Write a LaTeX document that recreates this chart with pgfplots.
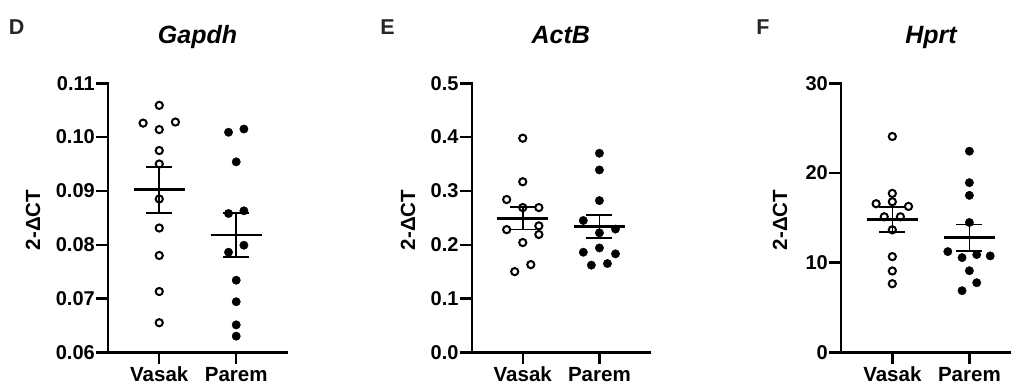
\documentclass[border=0pt]{standalone}
\usepackage{fontspec}
\setmainfont{Liberation Sans}
\usepackage{pgfplots}
\pgfplotsset{compat=1.18}
\pgfplotsset{
  gp/.style={
    scale only axis, clip=false, enlargelimits=false,
    axis x line=bottom, axis y line=left,
    axis line style={line width=2.4pt, line cap=rect, -},
    tick style={line width=2.4pt, black},
    tick align=outside, major tick length=12pt,
    xtick={0,1}, xticklabels={Vasak,Parem},
    xmin=-0.666, xmax=1.66,
    /pgf/number format/assume math mode=true,
    yticklabel style={font=\fontsize{20}{20}\selectfont\bfseries, inner sep=1pt},
    xticklabel style={font=\fontsize{20.5}{20}\selectfont\bfseries, inner sep=2.5pt},
    title style={at={(axis description cs:0.5,1.124)}, anchor=base, font=\fontsize{25}{25}\selectfont\bfseries\itshape},
    height=269pt,
  },
  vas/.style={only marks, mark=o, mark size=3.6pt, mark options={line width=2pt, black}},
  par/.style={only marks, mark=*, mark size=4.2pt, mark options={black, fill=black}},
  mn/.style={black, line width=2.8pt, no marks},
  sem/.style={black, line width=1.6pt, no marks},
}
\newcommand\ylab[1]{\node[rotate=90, anchor=center, font=\fontsize{20.5}{20}\selectfont\bfseries] at (axis description cs:#1,0.492) {2-ΔCT};}
\newcommand\plab[2]{\node[anchor=center, text=black!85, font=\fontsize{21.5}{21}\selectfont\bfseries] at (axis description cs:#1,1.209) {#2};}
\begin{document}
\begin{tikzpicture}
\path[use as bounding box] (0,0) rectangle (1011pt,-385pt);
% ---------------- D: Gapdh
\begin{axis}[gp, at={(108pt,-352.3pt)}, anchor=south west, width=179pt,
  ymin=0.06, ymax=0.11, ytick={0.06,0.07,0.08,0.09,0.10,0.11},
  yticklabel style={/pgf/number format/.cd, fixed, fixed zerofill, precision=2},
  title={Gapdh}]
\addplot[vas] coordinates {(0,0.1059) (-0.21,0.1026) (0.21,0.1028) (0,0.1014) (0,0.0975) (0,0.0950) (0,0.0885) (0,0.0831) (0,0.0780) (0,0.0713) (0,0.0655)};
\addplot[par] coordinates {(0.9,0.1009) (1.1,0.1015) (1,0.0954) (0.9,0.0858) (1.1,0.0863) (0.9,0.0786) (1.1,0.0799) (1,0.0734) (1,0.0694) (1,0.0651) (1,0.0630)};
\addplot[mn] coordinates {(-0.33,0.0902) (0.33,0.0902)};
\addplot[sem] coordinates {(0,0.0859) (0,0.0944)};
\addplot[sem] coordinates {(-0.17,0.0944) (0.17,0.0944)};
\addplot[sem] coordinates {(-0.17,0.0859) (0.17,0.0859)};
\addplot[mn] coordinates {(0.67,0.0818) (1.33,0.0818)};
\addplot[sem] coordinates {(1,0.0777) (1,0.0859)};
\addplot[sem] coordinates {(0.83,0.0859) (1.17,0.0859)};
\addplot[sem] coordinates {(0.83,0.0777) (1.17,0.0777)};
\ylab{-0.419}
\plab{-0.51}{D}
\end{axis}
% ---------------- E: ActB
\begin{axis}[gp, at={(471.7pt,-352.3pt)}, anchor=south west, width=178.3pt,
  ymin=0, ymax=0.5, ytick={0,0.1,0.2,0.3,0.4,0.5},
  yticklabel style={/pgf/number format/.cd, fixed, fixed zerofill, precision=1},
  title={ActB}]
\addplot[vas] coordinates {(0,0.398) (0,0.317) (-0.21,0.284) (0,0.269) (0.21,0.269) (-0.21,0.228) (0.21,0.235) (0.21,0.219) (0,0.204) (0.105,0.163) (-0.105,0.150)};
\addplot[par] coordinates {(1,0.370) (1,0.339) (1,0.282) (0.79,0.245) (1.21,0.229) (1,0.222) (1,0.194) (0.79,0.186) (1.21,0.183) (0.895,0.162) (1.105,0.165)};
\addplot[mn] coordinates {(-0.33,0.249) (0.33,0.249)};
\addplot[sem] coordinates {(0,0.228) (0,0.270)};
\addplot[sem] coordinates {(-0.17,0.270) (0.17,0.270)};
\addplot[sem] coordinates {(-0.17,0.228) (0.17,0.228)};
\addplot[mn] coordinates {(0.67,0.234) (1.33,0.234)};
\addplot[sem] coordinates {(1,0.213) (1,0.255)};
\addplot[sem] coordinates {(0.83,0.255) (1.17,0.255)};
\addplot[sem] coordinates {(0.83,0.213) (1.17,0.213)};
\ylab{-0.357}
\plab{-0.472}{E}
\end{axis}
% ---------------- F: Hprt
\begin{axis}[gp, at={(841pt,-352.3pt)}, anchor=south west, width=170pt, xmax=1.54,
  ymin=0, ymax=30, ytick={0,10,20,30},
  title style={at={(axis description cs:0.53,1.124)}},
  title={Hprt}]
\addplot[vas] coordinates {(0,24.07) (0,17.72) (-0.21,16.57) (0,16.79) (0.21,16.27) (-0.105,15.11) (0.105,15.11) (0,13.66) (0,10.67) (0,9.07) (0,7.65)};
\addplot[par] coordinates {(1,22.43) (1,18.92) (1,17.50) (1,14.48) (0.72,11.23) (0.905,10.56) (1.095,10.90) (1.27,10.75) (1,9.10) (1.095,7.76) (0.905,6.87)};
\addplot[mn] coordinates {(-0.33,14.78) (0.33,14.78)};
\addplot[sem] coordinates {(0,13.40) (0,16.19)};
\addplot[sem] coordinates {(-0.17,16.19) (0.17,16.19)};
\addplot[sem] coordinates {(-0.17,13.40) (0.17,13.40)};
\addplot[mn] coordinates {(0.67,12.80) (1.33,12.80)};
\addplot[sem] coordinates {(1,11.31) (1,14.25)};
\addplot[sem] coordinates {(0.83,14.25) (1.17,14.25)};
\addplot[sem] coordinates {(0.83,11.31) (1.17,11.31)};
\ylab{-0.359}
\plab{-0.459}{F}
\end{axis}
\end{tikzpicture}
\end{document}
